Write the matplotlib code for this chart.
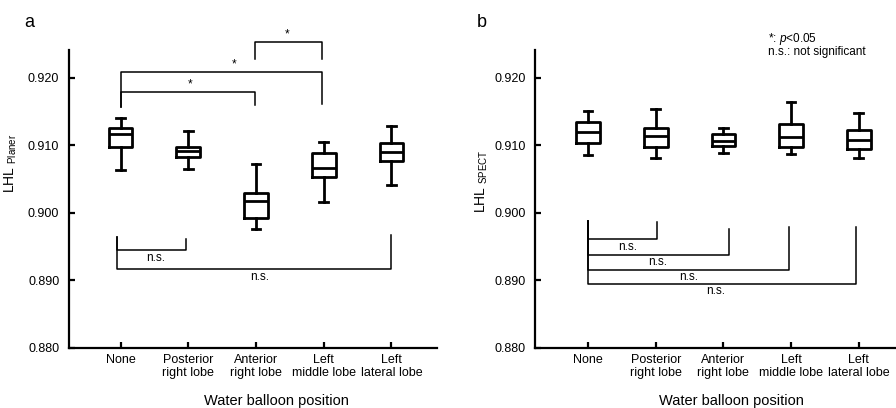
import matplotlib
matplotlib.use("Agg")
import matplotlib.pyplot as plt

plt.rcParams["font.family"] = ["Liberation Sans", "DejaVu Sans"]
plt.rcParams["mathtext.fontset"] = "custom"
plt.rcParams["mathtext.rm"] = "Liberation Sans"
plt.rcParams["mathtext.it"] = "Liberation Sans:italic"

categories = ["None", "Posterior\nright lobe", "Anterior\nright lobe",
              "Left\nmiddle lobe", "Left\nlateral lobe"]

# panel a: LHL planar
planar_whislo = [0.9063, 0.9065, 0.8976, 0.9016, 0.9041]
planar_q1 = [0.9098, 0.9083, 0.8992, 0.9053, 0.9077]
planar_med = [0.9116, 0.9092, 0.9017, 0.9067, 0.9090]
planar_q3 = [0.9126, 0.9098, 0.9029, 0.9089, 0.9103]
planar_whishi = [0.9141, 0.9121, 0.9073, 0.9105, 0.9129]

# panel b: LHL SPECT
spect_whislo = [0.9086, 0.9081, 0.9088, 0.9087, 0.9081]
spect_q1 = [0.9104, 0.9098, 0.9099, 0.9098, 0.9095]
spect_med = [0.9119, 0.9113, 0.9107, 0.9112, 0.9108]
spect_q3 = [0.9135, 0.9126, 0.9117, 0.9131, 0.9123]
spect_whishi = [0.9151, 0.9153, 0.9126, 0.9164, 0.9148]

# brackets: (x_left, x_right, y_line, y_left_top, y_right_top, label, label_x)
planar_sig = [
    (1.0, 2.98, 0.91788, 0.91572, 0.91596, "*", 2.03),
    (1.0, 3.97, 0.92089, 0.91572, 0.91616, "*", 2.68),
    (2.98, 3.97, 0.92530, 0.92272, 0.92272, "*", 3.46),
]
planar_ns = [
    (0.94, 1.96, 0.89451, 0.89637, 0.89620, "n.s.", 1.51),
    (0.94, 5.0, 0.89164, 0.89637, 0.89665, "n.s.", 3.06),
]
spect_ns = [
    (1.0, 2.02, 0.89607, 0.89886, 0.89870, "n.s.", 1.59),
    (1.0, 3.08, 0.89381, 0.89886, 0.89763, "n.s.", 2.03),
    (1.0, 3.97, 0.89160, 0.89886, 0.89783, "n.s.", 2.49),
    (1.0, 4.96, 0.88951, 0.89886, 0.89783, "n.s.", 2.89),
]


def make_stats(lo, q1, med, q3, hi):
    return [dict(whislo=a, q1=b, med=c, q3=d, whishi=e, fliers=[])
            for a, b, c, d, e in zip(lo, q1, med, q3, hi)]


def draw_boxes(ax, stats):
    pos = list(range(1, len(stats) + 1))
    lw = 2.0
    ax.bxp(stats, positions=pos, widths=0.35, capwidths=0.13,
           showfliers=False, manage_ticks=False,
           boxprops=dict(color="black", linewidth=lw),
           whiskerprops=dict(color="black", linewidth=lw),
           capprops=dict(color="black", linewidth=lw),
           medianprops=dict(color="black", linewidth=lw))


def draw_brackets(ax, brackets, star):
    for xl, xr, y, yl, yr, label, lx in brackets:
        ax.plot([xl, xl, xr, xr], [yl, y, y, yr], color="black",
                linewidth=1.1, clip_on=False)
        if star:
            ax.text(lx, y + 0.0002, label, ha="center", va="bottom",
                    fontsize=8.5, clip_on=False)
        else:
            ax.text(lx, y - 0.00025, label, ha="center", va="top",
                    fontsize=8.5, clip_on=False)


def style_axis(ax, xlim):
    ax.set_xlim(*xlim)
    ax.set_ylim(0.880, 0.9241)
    ax.set_yticks([0.880, 0.890, 0.900, 0.910, 0.920])
    ax.set_yticklabels(["0.880", "0.890", "0.900", "0.910", "0.920"])
    ax.set_xticks(range(1, len(categories) + 1))
    ax.set_xticklabels(categories, linespacing=1.15)
    for side in ("top", "right"):
        ax.spines[side].set_visible(False)
    for side in ("left", "bottom"):
        ax.spines[side].set_linewidth(1.6)
    ax.tick_params(axis="both", direction="in", length=4, width=1.6,
                   labelsize=9, colors="black")
    ax.tick_params(axis="y", pad=7)
    ax.tick_params(axis="x", pad=4)
    ax.set_xlabel("Water balloon position", fontsize=10.5)


fig = plt.figure(figsize=(8.96, 4.08), dpi=100)
ax_a = fig.add_axes([0.0770, 0.1471, 0.4107, 0.7304])
ax_b = fig.add_axes([0.5975, 0.1471, 0.4025, 0.7304])

draw_boxes(ax_a, make_stats(planar_whislo, planar_q1, planar_med,
                            planar_q3, planar_whishi))
draw_brackets(ax_a, planar_sig, True)
draw_brackets(ax_a, planar_ns, False)
style_axis(ax_a, (0.237, 5.673))
ax_a.set_ylabel(r"LHL $_{\mathregular{Planer}}$", fontsize=10)
ax_a.yaxis.set_label_coords(-0.135, 0.62)
ax_a.xaxis.set_label_coords(0.565, -0.155)

draw_boxes(ax_b, make_stats(spect_whislo, spect_q1, spect_med,
                            spect_q3, spect_whishi))
draw_brackets(ax_b, spect_ns, False)
style_axis(ax_b, (0.222, 5.55))
ax_b.set_ylabel(r"LHL $_{\mathregular{SPECT}}$", fontsize=10)
ax_b.yaxis.set_label_coords(-0.125, 0.56)
ax_b.xaxis.set_label_coords(0.545, -0.155)

fig.text(0.027, 0.945, "a", fontsize=13, ha="left", va="center")
fig.text(0.532, 0.945, "b", fontsize=13, ha="left", va="center")
fig.text(0.857, 0.905, r"*: $p$<0.05", fontsize=8.5, ha="left", va="center")
fig.text(0.857, 0.872, "n.s.: not significant", fontsize=8.5,
         ha="left", va="center")

fig.savefig("out.png", dpi=100)
